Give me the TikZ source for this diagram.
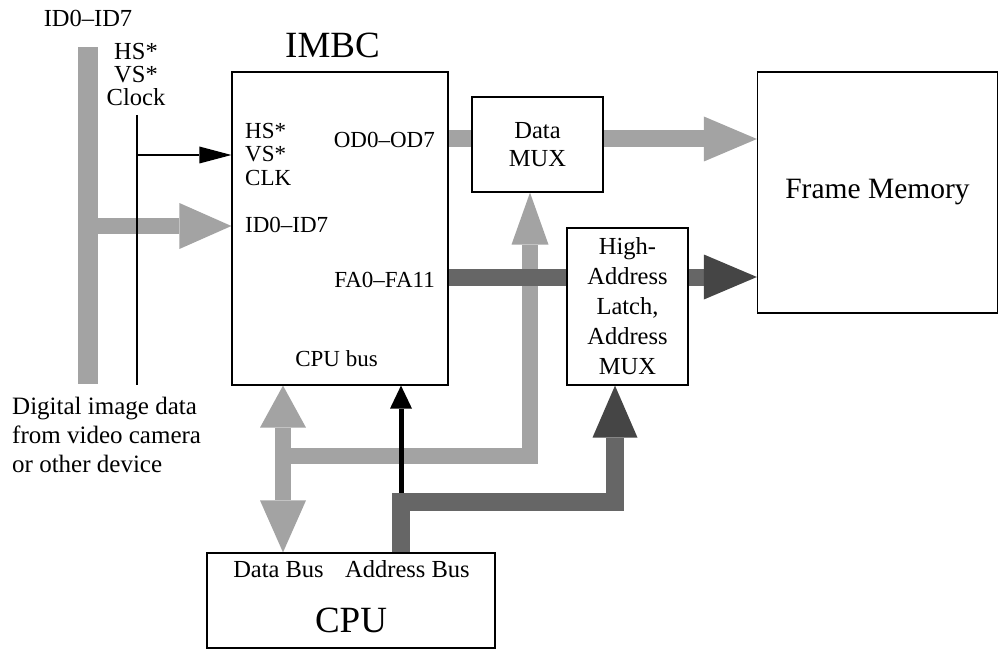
\documentclass[tikz,border=0pt]{standalone}
\usepackage{fontspec}
\setmainfont{Liberation Serif}
\usetikzlibrary{arrows.meta,backgrounds}
\definecolor{lg}{gray}{0.64}
\definecolor{dg}{gray}{0.40}
\definecolor{dh}{gray}{0.27}
\newcommand{\labfont}{\fontsize{24.5}{28}\selectfont}
\newcommand{\labsfont}{\fontsize{23}{23.5}\selectfont}
\newcommand{\bigfont}{\fontsize{37}{40}\selectfont}
\tikzset{
  box/.style={draw, line width=1.2pt, inner sep=0pt},
  lbus/.style={draw=lg, line width=16pt},
  dbus/.style={draw=dg, line width=17pt},
  thinline/.style={draw=black, line width=1.5pt},
  blk/.style={draw=black, line width=5pt},
  txt/.style={inner sep=0pt},
}
\begin{document}
\begin{tikzpicture}[x=1pt,y=-1pt]
\useasboundingbox (0,0) rectangle (999,650);
% boxes
\node[box, minimum width=216pt, minimum height=313pt] (imbc) at (340,228.5) {};
\node[box, minimum width=131pt, minimum height=95pt, align=center, font=\labfont] (datamux) at (537.5,144.5) {Data\\MUX};
\node[box, minimum width=121pt, minimum height=157pt, align=center, font={\fontsize{24.5}{30}\selectfont}] (latch) at (627.5,306.5) {High-\\Address\\Latch,\\Address\\MUX};
\node[box, minimum width=240pt, minimum height=241pt, font={\fontsize{29.5}{34}\selectfont}] (frame) at (877.5,192.5) {Frame Memory};
\node[box, minimum width=288pt, minimum height=95pt] (cpu) at (351,600.5) {};
\node[fill=lg, minimum width=20pt, minimum height=337pt, inner sep=0pt] (idbar) at (88,215.5) {};
% coordinates
\coordinate (hstop) at (137,115);
\coordinate (hsbot) at (137,385);
\coordinate (hsj) at (137,155);
\coordinate (dj) at (283,456);
\coordinate (aj) at (401,502);
\coordinate (ac) at (615,502);
% texts
\node[txt, font=\bigfont, anchor=base] (imbclab) at (332.5,58) {IMBC};
\node[txt, font=\labfont, anchor=base] (idlab) at (88,27) {ID0--ID7};
\node[txt, font={\fontsize{24.5}{23}\selectfont}, align=center, anchor=north] (hslab) at (136,43) {HS*\\VS*\\Clock};
\node[txt, font={\fontsize{25}{29}\selectfont}, align=left, anchor=north west] (diglab) at (12,397) {Digital image data\\from video camera\\or other device};
\node[txt, font=\labsfont, align=left, anchor=north west] (hsin) at (245,123) {HS*\\VS*\\CLK};
\node[txt, font=\labsfont, anchor=base east] (odlab) at (435,148) {OD0--OD7};
\node[txt, font=\labsfont, anchor=base west] (idin) at (245,233) {ID0--ID7};
\node[txt, font=\labsfont, anchor=base east] (falab) at (435,287) {FA0--FA11};
\node[txt, font=\labsfont, anchor=base] (cpubus) at (336.5,366) {CPU bus};
\node[txt, font=\labfont, anchor=base] (dblab) at (278.5,577) {Data Bus};
\node[txt, font=\labfont, anchor=base] (ablab) at (407.5,577) {Address Bus};
\node[txt, font=\bigfont, anchor=base] (cpulab) at (351,632) {CPU};
% connectors
\begin{scope}[on background layer]
\draw[lbus, -{Triangle[width=46pt,length=52pt,line width=0pt]}] (idbar.east |- 0,226) -- (imbc.west |- 0,226);
\draw[thinline] (hstop) -- (hsbot);
\draw[thinline, -{Triangle[width=17pt,length=32pt,line width=0pt]}] (hsj) -- (imbc.west |- hsj);
\draw[lbus, line width=17pt] (imbc.east |- 0,139) -- (datamux.west |- 0,139);
\draw[lbus, line width=17pt, -{Triangle[width=45pt,length=53pt,line width=0pt]}] (datamux.east |- 0,139) -- (frame.west |- 0,139);
\draw[lbus, {Triangle[width=46pt,length=42pt,line width=0pt]}-{Triangle[width=46pt,length=52pt,line width=0pt]}] (imbc.south -| 283,0) -- (cpu.north -| 283,0);
\draw[lbus, line join=miter, -{Triangle[width=37pt,length=52pt,line width=0pt]}] (dj) -| (datamux.south -| 530,0);
\draw[blk, -{Triangle[width=22pt,length=23pt,line width=0pt]}] (aj) -- (imbc.south -| aj);
\draw[dbus, line width=18pt, line join=miter, -{Triangle[width=45pt,length=52pt,line width=0pt,fill=dh,color=dh]}] (cpu.north -| aj) |- (ac) -- (latch.south -| ac);
\draw[dbus] (imbc.east |- 0,277) -- (latch.west |- 0,277);
\draw[dbus, -{Triangle[width=45pt,length=53pt,line width=0pt,fill=dh,color=dh]}] (latch.east |- 0,277) -- (frame.west |- 0,277);
\end{scope}
\end{tikzpicture}
\end{document}
